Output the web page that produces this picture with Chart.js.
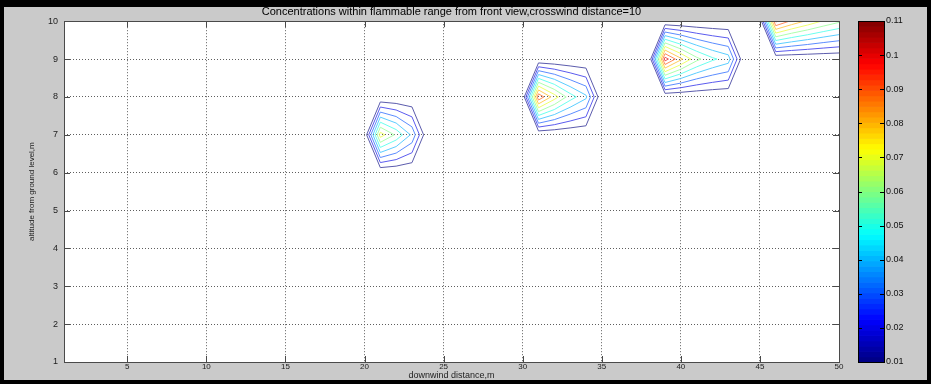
<!DOCTYPE html>
<html>
<head>
<meta charset="utf-8">
<title>Flammable range, front view</title>
<script src="https://cdn.jsdelivr.net/npm/chart.js@4.4.1/dist/chart.umd.min.js"></script>
<style>
  html, body { margin: 0; padding: 0; background: #cacaca; }
  #wrap { position: relative; width: 931px; height: 384px; overflow: hidden; }
  #main { position: absolute; left: 0; top: 0; }
  #cbar { position: absolute; left: 850px; top: 0; }
</style>
</head>
<body>
<div id="wrap">
  <canvas id="main" width="931" height="384"></canvas>
  <canvas id="cbar" width="81" height="384"></canvas>
</div>
<script>
// ---- data -------------------------------------------------------------
const xTicks = [5, 10, 15, 20, 25, 30, 35, 40, 45, 50];
const yTicks = [1, 2, 3, 4, 5, 6, 7, 8, 9, 10];
const contourLevels = [0.01, 0.02, 0.03, 0.04, 0.05, 0.06, 0.07, 0.08, 0.09, 0.10];
const colorbarTicks = [0.01, 0.02, 0.03, 0.04, 0.05, 0.06, 0.07, 0.08, 0.09, 0.10, 0.11];

// centreline altitude (m) and first downwind grid column of each puff
const puffAltitude = [7, 8, 9, 10];
const puffStartX = [21, 31, 39, 46];

// concentration along each centreline, one value per 1 m grid column;
// grid cells outside the flammable range hold 0
const concAlt7 = [0.075, 0.058, 0.038];
const concAlt8 = [0.098, 0.075, 0.055, 0.042];
const concAlt9 = [0.105, 0.082, 0.063, 0.052, 0.045];
const concAlt10 = [0.102, 0.088, 0.078, 0.069, 0.062];
const puffConc = [concAlt7, concAlt8, concAlt9, concAlt10];

const gridMaxX = 50;
const gridMaxY = 10;
const cMin = 0.01, cMax = 0.11;

// ---- colour map (jet) -------------------------------------------------
function clamp01(v) { return Math.max(0, Math.min(1, v)); }
function jet(t) {
  const r = clamp01(Math.min(4 * t - 1.5, -4 * t + 4.5));
  const g = clamp01(Math.min(4 * t - 0.5, -4 * t + 3.5));
  const b = clamp01(Math.min(4 * t + 0.5, -4 * t + 2.5));
  return [r, g, b];
}
function jetCss(t, wash) {
  const c = jet(t).map(v => Math.round(255 * (v * (1 - wash) + wash)));
  return 'rgb(' + c.join(',') + ')';
}
function levelColor(c) { return jetCss((c - cMin) / (cMax - cMin), 0.36); }

// ---- contour lines of one puff (linear interpolation on the 1 m grid) --
function contourPath(y0, x0, v, c) {
  if (v[0] <= c) return null;
  let k = 0;
  while (k + 1 < v.length && v[k + 1] > c) k++;
  const lastX = x0 + k;
  const openRight = lastX >= gridMaxX;
  const next = k + 1 < v.length ? v[k + 1] : 0;
  const pts = [{ x: x0 - 1 + c / v[0], y: y0 }];
  const upper = [], lower = [];
  for (let i = 0; i <= k; i++) {
    upper.push({ x: x0 + i, y: y0 + 1 - c / v[i] });
    lower.push({ x: x0 + i, y: y0 - 1 + c / v[i] });
  }
  const right = openRight ? null : { x: lastX + (v[k] - c) / (v[k] - next), y: y0 };
  if (y0 >= gridMaxY) {
    pts.push(...lower);
    if (right) pts.push(right);
  } else {
    pts.push(...upper);
    if (right) pts.push(right);
    pts.push(...lower.reverse());
    pts.push(pts[0]);
  }
  return pts;
}

const datasets = [];
puffConc.forEach((vals, p) => {
  contourLevels.forEach(c => {
    const pts = contourPath(puffAltitude[p], puffStartX[p], vals, c);
    if (!pts) return;
    datasets.push({
      data: pts,
      showLine: true,
      borderColor: levelColor(c),
      borderWidth: 1,
      pointRadius: 0,
      fill: false,
      tension: 0
    });
  });
});

// ---- drawing helpers --------------------------------------------------
const FONT = "'Liberation Sans', Arial, sans-serif";

const frame = {
  id: 'frame',
  beforeDraw(chart) {
    const { ctx, width, height, chartArea: a } = chart;
    ctx.save();
    ctx.fillStyle = '#000';
    ctx.fillRect(0, 0, width, height);
    ctx.fillStyle = '#cacaca';
    ctx.fillRect(4, 7, width - 8, height - 11);
    ctx.fillStyle = '#fff';
    ctx.fillRect(a.left, a.top, a.right - a.left, a.bottom - a.top);
    ctx.restore();
  },
  afterDraw(chart) {
    const { ctx, chartArea: a, scales } = chart;
    ctx.save();
    ctx.strokeStyle = '#4a4a4a';
    ctx.lineWidth = 1;
    ctx.beginPath();
    const t = 6;
    xTicks.forEach(v => {
      const px = Math.round(scales.x.getPixelForValue(v)) + 0.5;
      ctx.moveTo(px, a.bottom); ctx.lineTo(px, a.bottom - t);
      ctx.moveTo(px, a.top); ctx.lineTo(px, a.top + t);
    });
    yTicks.forEach(v => {
      const py = Math.round(scales.y.getPixelForValue(v)) + 0.5;
      ctx.moveTo(a.left, py); ctx.lineTo(a.left + t, py);
      ctx.moveTo(a.right, py); ctx.lineTo(a.right - t, py);
    });
    ctx.stroke();
    ctx.strokeRect(Math.round(a.left) + 0.5, Math.round(a.top) + 0.5,
      Math.round(a.right - a.left), Math.round(a.bottom - a.top));
    ctx.restore();
  }
};

new Chart(document.getElementById('main'), {
  type: 'scatter',
  data: { datasets },
  options: {
    responsive: false,
    animation: false,
    events: [],
    layout: { padding: { left: 0, right: 92, top: 0, bottom: 0 } },
    plugins: {
      legend: { display: false },
      tooltip: { enabled: false },
      title: {
        display: true,
        fullSize: false,
        text: 'Concentrations within flammable range from front view,crosswind distance=10',
        color: '#000',
        font: { family: FONT, size: 11, weight: 'normal' },
        padding: { top: 5, bottom: 3 }
      }
    },
    scales: {
      x: {
        type: 'linear',
        min: 1,
        max: 50,
        afterBuildTicks: s => { s.ticks = xTicks.map(v => ({ value: v })); },
        afterFit: s => { s.height = 22; },
        grid: { color: '#5e5e5e', lineWidth: 1, drawTicks: false },
        border: { display: false, dash: [1, 2] },
        ticks: { color: '#222', font: { family: FONT, size: 8 }, padding: 0, maxRotation: 0 },
        title: {
          display: true,
          text: 'downwind distance,m',
          color: '#222',
          font: { family: FONT, size: 9 },
          padding: { top: 0, bottom: 3 }
        }
      },
      y: {
        type: 'linear',
        min: 1,
        max: 10,
        afterBuildTicks: s => { s.ticks = yTicks.map(v => ({ value: v })); },
        afterFit: s => { s.width = 64; },
        grid: { color: '#5e5e5e', lineWidth: 1, drawTicks: false },
        border: { display: false, dash: [1, 2] },
        ticks: { color: '#222', font: { family: FONT, size: 9 }, padding: 6 },
        title: {
          display: true,
          text: 'altitude from ground level,m',
          color: '#222',
          font: { family: FONT, size: 8 },
          padding: { top: 27, bottom: 0 }
        }
      }
    }
  },
  plugins: [frame]
});

// ---- colour bar -------------------------------------------------------
const colourBand = {
  id: 'colourBand',
  beforeDraw(chart) {
    const { ctx, chartArea: a, scales } = chart;
    const y = scales.y;
    const n = 64;
    ctx.save();
    for (let i = 0; i < n; i++) {
      const v0 = cMin + (cMax - cMin) * i / n;
      const v1 = cMin + (cMax - cMin) * (i + 1) / n;
      const p0 = y.getPixelForValue(v0), p1 = y.getPixelForValue(v1);
      ctx.fillStyle = jetCss((i + 0.5) / n, 0);
      ctx.fillRect(a.left, p1, a.right - a.left, p0 - p1 + 0.6);
    }
    ctx.restore();
  },
  afterDraw(chart) {
    const { ctx, chartArea: a, scales } = chart;
    ctx.save();
    ctx.strokeStyle = '#000';
    ctx.lineWidth = 1;
    ctx.beginPath();
    colorbarTicks.forEach(v => {
      const py = Math.round(scales.y.getPixelForValue(v)) + 0.5;
      ctx.moveTo(a.left, py); ctx.lineTo(a.left + 4, py);
      ctx.moveTo(a.right, py); ctx.lineTo(a.right - 4, py);
    });
    ctx.stroke();
    ctx.strokeRect(Math.round(a.left) + 0.5, Math.round(a.top) + 0.5,
      Math.round(a.right - a.left), Math.round(a.bottom - a.top));
    ctx.restore();
  }
};

new Chart(document.getElementById('cbar'), {
  type: 'bar',
  data: { labels: [''], datasets: [] },
  options: {
    responsive: false,
    animation: false,
    events: [],
    layout: { padding: { left: 8, right: 0, top: 21, bottom: 22 } },
    plugins: { legend: { display: false }, tooltip: { enabled: false }, title: { display: false } },
    scales: {
      x: { display: false },
      y: {
        position: 'right',
        type: 'linear',
        min: cMin,
        max: cMax,
        afterBuildTicks: s => { s.ticks = colorbarTicks.map(v => ({ value: v })); },
        afterFit: s => { s.width = 47; },
        grid: { display: false, drawTicks: false },
        border: { display: false },
        ticks: {
          color: '#111',
          font: { family: FONT, size: 9 },
          padding: 2,
          callback: v => String(Number(v.toFixed(2)))
        }
      }
    }
  },
  plugins: [colourBand]
});
</script>
</body>
</html>
